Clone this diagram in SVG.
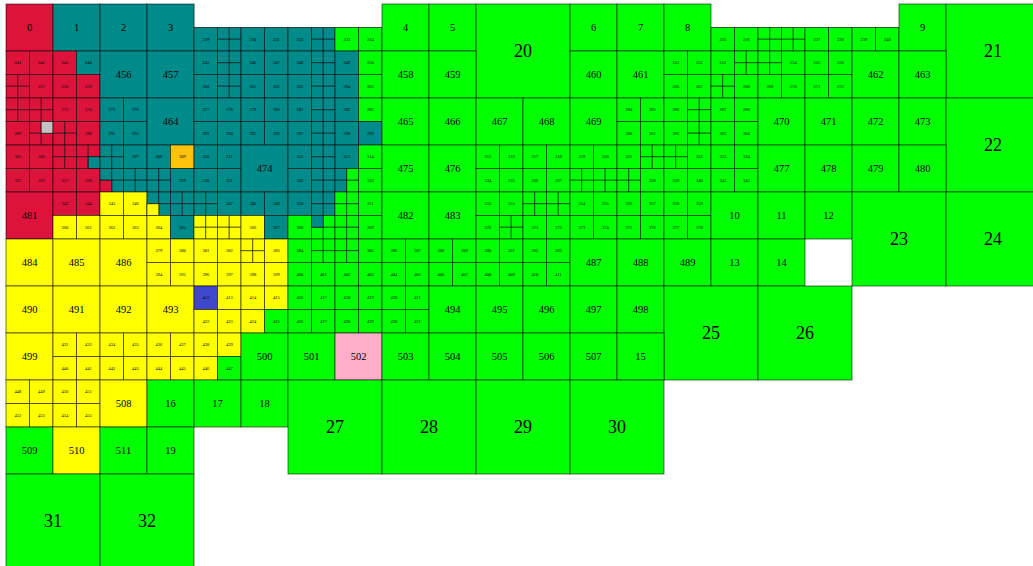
<svg xmlns="http://www.w3.org/2000/svg" width="1033" height="566" viewBox="0 0 1033 566">
<style>
.r{fill:#DC143C}.t{fill:#008B8B}.y{fill:#FFFF00}.g{fill:#00FF00}.o{fill:#FFC20E}.b{fill:#3F48CC}.p{fill:#FFAEC9}.s{fill:#C3C3C3}
text{font-family:"Liberation Serif","Times New Roman",serif;text-anchor:middle;dominant-baseline:central;fill:#000}
.L{font-size:18px}.M{font-size:10.5px}.S{font-size:4.5px}
</style>
<defs>
<rect id="A" width="47" height="47"/>
<rect id="H" width="23.5" height="23.5"/>
<rect id="B" width="94" height="94"/>
<rect id="T" width="11.75" height="11.75"/>
<g id="q"><rect width="11.75" height="11.75"/><rect x="11.75" width="11.75" height="11.75"/><rect y="11.75" width="11.75" height="11.75"/><rect x="11.75" y="11.75" width="11.75" height="11.75"/></g>
</defs>
<rect width="1033" height="566" fill="#fff"/>
<path d="M194 4V27.5H382M711 27.5H899" stroke="#aaa" fill="none"/>
<g id="cells" stroke="#000" stroke-opacity=".55">
<!-- row 0 -->
<use href="#A" x="6" y="4" class="r"/><use href="#A" x="53" y="4" class="t"/><use href="#A" x="100" y="4" class="t"/><use href="#A" x="147" y="4" class="t"/>
<use href="#H" x="194" y="27.5" class="t"/><use href="#q" x="217.5" y="27.5" class="t"/><use href="#H" x="241" y="27.5" class="t"/><use href="#H" x="264.5" y="27.5" class="t"/>
<use href="#H" x="288" y="27.5" class="t"/><use href="#q" x="311.5" y="27.5" class="t"/><use href="#H" x="335" y="27.5" class="g"/><use href="#H" x="358.5" y="27.5" class="g"/>
<use href="#A" x="382" y="4" class="g"/><use href="#A" x="429" y="4" class="g"/><use href="#B" x="476" y="4" class="g"/>
<use href="#A" x="570" y="4" class="g"/><use href="#A" x="617" y="4" class="g"/><use href="#A" x="664" y="4" class="g"/>
<use href="#H" x="711" y="27.5" class="g"/><use href="#H" x="734.5" y="27.5" class="g"/><use href="#q" x="758" y="27.5" class="g"/><use href="#q" x="781.5" y="27.5" class="g"/>
<use href="#H" x="805" y="27.5" class="g"/><use href="#H" x="828.5" y="27.5" class="g"/><use href="#H" x="852" y="27.5" class="g"/><use href="#H" x="875.5" y="27.5" class="g"/>
<use href="#A" x="899" y="4" class="g"/><use href="#B" x="946" y="4" class="g"/>
<!-- row 1 -->
<use href="#H" x="6" y="51" class="r"/><use href="#H" x="29.5" y="51" class="r"/><use href="#q" x="6" y="74.5" class="r"/><use href="#H" x="29.5" y="74.5" class="r"/>
<use href="#H" x="53" y="51" class="r"/><use href="#H" x="76.5" y="51" class="t"/><use href="#H" x="53" y="74.5" class="r"/><use href="#H" x="76.5" y="74.5" class="r"/>
<use href="#A" x="100" y="51" class="t"/><use href="#A" x="147" y="51" class="t"/>
<use href="#H" x="194" y="51" class="t"/><use href="#q" x="217.5" y="51" class="t"/><use href="#H" x="194" y="74.5" class="t"/><use href="#q" x="217.5" y="74.5" class="t"/>
<use href="#H" x="241" y="51" class="t"/><use href="#H" x="264.5" y="51" class="t"/><use href="#H" x="241" y="74.5" class="t"/><use href="#H" x="264.5" y="74.5" class="t"/>
<use href="#H" x="288" y="51" class="t"/><use href="#q" x="311.5" y="51" class="t"/><use href="#H" x="288" y="74.5" class="t"/><use href="#q" x="311.5" y="74.5" class="t"/>
<use href="#H" x="335" y="51" class="t"/><use href="#H" x="358.5" y="51" class="g"/><use href="#H" x="335" y="74.5" class="t"/><use href="#H" x="358.5" y="74.5" class="g"/>
<use href="#A" x="382" y="51" class="g"/><use href="#A" x="429" y="51" class="g"/><use href="#A" x="570" y="51" class="g"/><use href="#A" x="617" y="51" class="g"/>
<use href="#H" x="664" y="51" class="g"/><use href="#H" x="687.5" y="51" class="g"/><use href="#H" x="664" y="74.5" class="g"/><use href="#H" x="687.5" y="74.5" class="g"/>
<use href="#H" x="711" y="51" class="g"/><use href="#q" x="734.5" y="51" class="g"/><use href="#q" x="711" y="74.5" class="g"/><use href="#H" x="734.5" y="74.5" class="g"/>
<use href="#q" x="758" y="51" class="g"/><use href="#H" x="781.5" y="51" class="g"/><use href="#H" x="758" y="74.5" class="g"/><use href="#H" x="781.5" y="74.5" class="g"/>
<use href="#H" x="805" y="51" class="g"/><use href="#H" x="828.5" y="51" class="g"/><use href="#H" x="805" y="74.5" class="g"/><use href="#H" x="828.5" y="74.5" class="g"/>
<use href="#A" x="852" y="51" class="g"/><use href="#A" x="899" y="51" class="g"/>
<!-- row 2 -->
<use href="#q" x="6" y="98" class="r"/><use href="#q" x="29.5" y="98" class="r"/><use href="#H" x="6" y="121.5" class="r"/><use href="#q" x="29.5" y="121.5" class="r"/><use href="#T" x="41.25" y="121.5" class="s"/>
<use href="#H" x="53" y="98" class="r"/><use href="#H" x="76.5" y="98" class="r"/><use href="#q" x="53" y="121.5" class="r"/><use href="#H" x="76.5" y="121.5" class="r"/>
<use href="#H" x="100" y="98" class="t"/><use href="#H" x="123.5" y="98" class="t"/><use href="#H" x="100" y="121.5" class="t"/><use href="#H" x="123.5" y="121.5" class="t"/>
<use href="#A" x="147" y="98" class="t"/>
<use href="#H" x="194" y="98" class="t"/><use href="#H" x="217.5" y="98" class="t"/><use href="#H" x="194" y="121.5" class="t"/><use href="#H" x="217.5" y="121.5" class="t"/>
<use href="#H" x="241" y="98" class="t"/><use href="#H" x="264.5" y="98" class="t"/><use href="#H" x="241" y="121.5" class="t"/><use href="#H" x="264.5" y="121.5" class="t"/>
<use href="#H" x="288" y="98" class="t"/><use href="#q" x="311.5" y="98" class="t"/><use href="#H" x="288" y="121.5" class="t"/><use href="#q" x="311.5" y="121.5" class="t"/>
<use href="#H" x="335" y="98" class="t"/><use href="#H" x="358.5" y="98" class="g"/><use href="#H" x="335" y="121.5" class="t"/><use href="#H" x="358.5" y="121.5" class="t"/>
<use href="#A" x="382" y="98" class="g"/><use href="#A" x="429" y="98" class="g"/><use href="#A" x="476" y="98" class="g"/><use href="#A" x="523" y="98" class="g"/><use href="#A" x="570" y="98" class="g"/>
<use href="#H" x="617" y="98" class="g"/><use href="#H" x="640.5" y="98" class="g"/><use href="#H" x="617" y="121.5" class="g"/><use href="#H" x="640.5" y="121.5" class="g"/>
<use href="#H" x="664" y="98" class="g"/><use href="#q" x="687.5" y="98" class="g"/><use href="#H" x="664" y="121.5" class="g"/><use href="#q" x="687.5" y="121.5" class="g"/>
<use href="#H" x="711" y="98" class="g"/><use href="#H" x="734.5" y="98" class="g"/><use href="#H" x="711" y="121.5" class="g"/><use href="#H" x="734.5" y="121.5" class="g"/>
<use href="#A" x="758" y="98" class="g"/><use href="#A" x="805" y="98" class="g"/><use href="#A" x="852" y="98" class="g"/><use href="#A" x="899" y="98" class="g"/><use href="#B" x="946" y="98" class="g"/>
<!-- row 3 -->
<use href="#H" x="6" y="145" class="r"/><use href="#H" x="29.5" y="145" class="r"/><use href="#H" x="6" y="168.5" class="r"/><use href="#H" x="29.5" y="168.5" class="r"/>
<use href="#q" x="53" y="145" class="r"/><use href="#q" x="76.5" y="145" class="r"/><use href="#T" x="88.25" y="156.75" class="t"/><use href="#H" x="53" y="168.5" class="r"/><use href="#H" x="76.5" y="168.5" class="r"/>
<use href="#q" x="100" y="145" class="t"/><use href="#H" x="123.5" y="145" class="t"/><use href="#q" x="100" y="168.5" class="t"/><use href="#T" x="100" y="180.25" class="r"/><use href="#q" x="123.5" y="168.5" class="t"/>
<use href="#H" x="147" y="145" class="t"/><use href="#H" x="170.5" y="145" class="o"/><use href="#q" x="147" y="168.5" class="t"/><use href="#H" x="170.5" y="168.5" class="t"/>
<use href="#H" x="194" y="145" class="t"/><use href="#H" x="217.5" y="145" class="t"/><use href="#H" x="194" y="168.5" class="t"/><use href="#H" x="217.5" y="168.5" class="t"/>
<use href="#A" x="241" y="145" class="t"/>
<use href="#H" x="288" y="145" class="t"/><use href="#q" x="311.5" y="145" class="t"/><use href="#H" x="288" y="168.5" class="t"/><use href="#q" x="311.5" y="168.5" class="t"/>
<use href="#H" x="335" y="145" class="t"/><use href="#H" x="358.5" y="145" class="g"/><use href="#q" x="335" y="168.5" class="t"/><use href="#T" x="346.75" y="168.5" class="g"/><use href="#T" x="346.75" y="180.25" class="g"/><use href="#H" x="358.5" y="168.5" class="g"/>
<use href="#A" x="382" y="145" class="g"/><use href="#A" x="429" y="145" class="g"/>
<use href="#H" x="476" y="145" class="g"/><use href="#H" x="499.5" y="145" class="g"/><use href="#H" x="476" y="168.5" class="g"/><use href="#H" x="499.5" y="168.5" class="g"/>
<use href="#H" x="523" y="145" class="g"/><use href="#H" x="546.5" y="145" class="g"/><use href="#H" x="523" y="168.5" class="g"/><use href="#H" x="546.5" y="168.5" class="g"/>
<use href="#H" x="570" y="145" class="g"/><use href="#H" x="593.5" y="145" class="g"/><use href="#q" x="570" y="168.5" class="g"/><use href="#q" x="593.5" y="168.5" class="g"/>
<use href="#H" x="617" y="145" class="g"/><use href="#q" x="640.5" y="145" class="g"/><use href="#q" x="617" y="168.5" class="g"/><use href="#H" x="640.5" y="168.5" class="g"/>
<use href="#q" x="664" y="145" class="g"/><use href="#H" x="687.5" y="145" class="g"/><use href="#H" x="664" y="168.5" class="g"/><use href="#H" x="687.5" y="168.5" class="g"/>
<use href="#H" x="711" y="145" class="g"/><use href="#H" x="734.5" y="145" class="g"/><use href="#H" x="711" y="168.5" class="g"/><use href="#H" x="734.5" y="168.5" class="g"/>
<use href="#A" x="758" y="145" class="g"/><use href="#A" x="805" y="145" class="g"/><use href="#A" x="852" y="145" class="g"/><use href="#A" x="899" y="145" class="g"/>
<!-- row 4 -->
<use href="#A" x="6" y="192" class="r"/>
<use href="#H" x="53" y="192" class="r"/><use href="#H" x="76.5" y="192" class="r"/><use href="#H" x="53" y="215.5" class="y"/><use href="#H" x="76.5" y="215.5" class="y"/>
<use href="#H" x="100" y="192" class="y"/><use href="#H" x="123.5" y="192" class="y"/><use href="#H" x="100" y="215.5" class="y"/><use href="#H" x="123.5" y="215.5" class="y"/>
<use href="#q" x="147" y="192" class="t"/><use href="#T" x="147" y="203.75" class="y"/><use href="#q" x="170.5" y="192" class="t"/><use href="#H" x="147" y="215.5" class="y"/><use href="#H" x="170.5" y="215.5" class="t"/>
<use href="#q" x="194" y="192" class="t"/><use href="#H" x="217.5" y="192" class="t"/><use href="#q" x="194" y="215.5" class="y"/><use href="#q" x="217.5" y="215.5" class="y"/>
<use href="#H" x="241" y="192" class="t"/><use href="#H" x="264.5" y="192" class="t"/><use href="#H" x="241" y="215.5" class="y"/><use href="#H" x="264.5" y="215.5" class="t"/>
<use href="#H" x="288" y="192" class="t"/><use href="#q" x="311.5" y="192" class="t"/><use href="#H" x="288" y="215.5" class="g"/><use href="#q" x="311.5" y="215.5" class="g"/><use href="#T" x="311.5" y="215.5" class="t"/>
<use href="#q" x="335" y="192" class="g"/><use href="#H" x="358.5" y="192" class="g"/><use href="#q" x="335" y="215.5" class="g"/><use href="#H" x="358.5" y="215.5" class="g"/>
<use href="#A" x="382" y="192" class="g"/><use href="#A" x="429" y="192" class="g"/>
<use href="#H" x="476" y="192" class="g"/><use href="#H" x="499.5" y="192" class="g"/><use href="#H" x="476" y="215.5" class="g"/><use href="#q" x="499.5" y="215.5" class="g"/>
<use href="#q" x="523" y="192" class="g"/><use href="#q" x="546.5" y="192" class="g"/><use href="#H" x="523" y="215.5" class="g"/><use href="#H" x="546.5" y="215.5" class="g"/>
<use href="#H" x="570" y="192" class="g"/><use href="#H" x="593.5" y="192" class="g"/><use href="#H" x="570" y="215.5" class="g"/><use href="#H" x="593.5" y="215.5" class="g"/>
<use href="#H" x="617" y="192" class="g"/><use href="#H" x="640.5" y="192" class="g"/><use href="#H" x="617" y="215.5" class="g"/><use href="#H" x="640.5" y="215.5" class="g"/>
<use href="#H" x="664" y="192" class="g"/><use href="#H" x="687.5" y="192" class="g"/><use href="#H" x="664" y="215.5" class="g"/><use href="#H" x="687.5" y="215.5" class="g"/>
<use href="#A" x="711" y="192" class="g"/><use href="#A" x="758" y="192" class="g"/><use href="#A" x="805" y="192" class="g"/><use href="#B" x="852" y="192" class="g"/><use href="#B" x="946" y="192" class="g"/>
<!-- row 5 -->
<use href="#A" x="6" y="239" class="y"/><use href="#A" x="53" y="239" class="y"/><use href="#A" x="100" y="239" class="y"/>
<use href="#H" x="147" y="239" class="y"/><use href="#H" x="170.5" y="239" class="y"/><use href="#H" x="147" y="262.5" class="y"/><use href="#H" x="170.5" y="262.5" class="y"/>
<use href="#H" x="194" y="239" class="y"/><use href="#H" x="217.5" y="239" class="y"/><use href="#H" x="194" y="262.5" class="y"/><use href="#H" x="217.5" y="262.5" class="y"/>
<use href="#q" x="241" y="239" class="y"/><use href="#H" x="264.5" y="239" class="y"/><use href="#H" x="241" y="262.5" class="y"/><use href="#H" x="264.5" y="262.5" class="y"/>
<use href="#H" x="288" y="239" class="g"/><use href="#q" x="311.5" y="239" class="g"/><use href="#H" x="288" y="262.5" class="g"/><use href="#H" x="311.5" y="262.5" class="g"/>
<use href="#q" x="335" y="239" class="g"/><use href="#H" x="358.5" y="239" class="g"/><use href="#H" x="335" y="262.5" class="g"/><use href="#H" x="358.5" y="262.5" class="g"/>
<use href="#H" x="382" y="239" class="g"/><use href="#H" x="405.5" y="239" class="g"/><use href="#H" x="382" y="262.5" class="g"/><use href="#H" x="405.5" y="262.5" class="g"/>
<use href="#H" x="429" y="239" class="g"/><use href="#H" x="452.5" y="239" class="g"/><use href="#H" x="429" y="262.5" class="g"/><use href="#H" x="452.5" y="262.5" class="g"/>
<use href="#H" x="476" y="239" class="g"/><use href="#H" x="499.5" y="239" class="g"/><use href="#H" x="476" y="262.5" class="g"/><use href="#H" x="499.5" y="262.5" class="g"/>
<use href="#H" x="523" y="239" class="g"/><use href="#H" x="546.5" y="239" class="g"/><use href="#H" x="523" y="262.5" class="g"/><use href="#H" x="546.5" y="262.5" class="g"/>
<use href="#A" x="570" y="239" class="g"/><use href="#A" x="617" y="239" class="g"/><use href="#A" x="664" y="239" class="g"/><use href="#A" x="711" y="239" class="g"/><use href="#A" x="758" y="239" class="g"/>
<!-- row 6 -->
<use href="#A" x="6" y="286" class="y"/><use href="#A" x="53" y="286" class="y"/><use href="#A" x="100" y="286" class="y"/><use href="#A" x="147" y="286" class="y"/>
<use href="#H" x="194" y="286" class="b"/><use href="#H" x="217.5" y="286" class="y"/><use href="#H" x="194" y="309.5" class="y"/><use href="#H" x="217.5" y="309.5" class="y"/>
<use href="#H" x="241" y="286" class="y"/><use href="#H" x="264.5" y="286" class="y"/><use href="#H" x="241" y="309.5" class="y"/><use href="#H" x="264.5" y="309.5" class="g"/>
<use href="#H" x="288" y="286" class="g"/><use href="#H" x="311.5" y="286" class="g"/><use href="#H" x="288" y="309.5" class="g"/><use href="#H" x="311.5" y="309.5" class="g"/>
<use href="#H" x="335" y="286" class="g"/><use href="#H" x="358.5" y="286" class="g"/><use href="#H" x="335" y="309.5" class="g"/><use href="#H" x="358.5" y="309.5" class="g"/>
<use href="#H" x="382" y="286" class="g"/><use href="#H" x="405.5" y="286" class="g"/><use href="#H" x="382" y="309.5" class="g"/><use href="#H" x="405.5" y="309.5" class="g"/>
<use href="#A" x="429" y="286" class="g"/><use href="#A" x="476" y="286" class="g"/><use href="#A" x="523" y="286" class="g"/><use href="#A" x="570" y="286" class="g"/><use href="#A" x="617" y="286" class="g"/>
<use href="#B" x="664" y="286" class="g"/><use href="#B" x="758" y="286" class="g"/>
<!-- row 7 -->
<use href="#A" x="6" y="333" class="y"/>
<use href="#H" x="53" y="333" class="y"/><use href="#H" x="76.5" y="333" class="y"/><use href="#H" x="53" y="356.5" class="y"/><use href="#H" x="76.5" y="356.5" class="y"/>
<use href="#H" x="100" y="333" class="y"/><use href="#H" x="123.5" y="333" class="y"/><use href="#H" x="100" y="356.5" class="y"/><use href="#H" x="123.5" y="356.5" class="y"/>
<use href="#H" x="147" y="333" class="y"/><use href="#H" x="170.5" y="333" class="y"/><use href="#H" x="147" y="356.5" class="y"/><use href="#H" x="170.5" y="356.5" class="y"/>
<use href="#H" x="194" y="333" class="y"/><use href="#H" x="217.5" y="333" class="y"/><use href="#H" x="194" y="356.5" class="y"/><use href="#H" x="217.5" y="356.5" class="g"/>
<use href="#A" x="241" y="333" class="g"/><use href="#A" x="288" y="333" class="g"/><use href="#A" x="335" y="333" class="p"/><use href="#A" x="382" y="333" class="g"/><use href="#A" x="429" y="333" class="g"/>
<use href="#A" x="476" y="333" class="g"/><use href="#A" x="523" y="333" class="g"/><use href="#A" x="570" y="333" class="g"/><use href="#A" x="617" y="333" class="g"/>
<!-- row 8 -->
<use href="#H" x="6" y="380" class="y"/><use href="#H" x="29.5" y="380" class="y"/><use href="#H" x="6" y="403.5" class="y"/><use href="#H" x="29.5" y="403.5" class="y"/>
<use href="#H" x="53" y="380" class="y"/><use href="#H" x="76.5" y="380" class="y"/><use href="#H" x="53" y="403.5" class="y"/><use href="#H" x="76.5" y="403.5" class="y"/>
<use href="#A" x="100" y="380" class="y"/><use href="#A" x="147" y="380" class="g"/><use href="#A" x="194" y="380" class="g"/><use href="#A" x="241" y="380" class="g"/>
<use href="#B" x="288" y="380" class="g"/><use href="#B" x="382" y="380" class="g"/><use href="#B" x="476" y="380" class="g"/><use href="#B" x="570" y="380" class="g"/>
<!-- row 9-11 -->
<use href="#A" x="6" y="427" class="g"/><use href="#A" x="53" y="427" class="y"/><use href="#A" x="100" y="427" class="g"/><use href="#A" x="147" y="427" class="g"/>
<use href="#B" x="6" y="474" class="g"/><use href="#B" x="100" y="474" class="g"/>
</g>
<g id="labels">
<g class="L">
<text x="523" y="51">20</text><text x="993" y="51">21</text><text x="993" y="145">22</text><text x="899" y="239">23</text><text x="993" y="239">24</text>
<text x="711" y="333">25</text><text x="805" y="333">26</text><text x="335" y="427">27</text><text x="429" y="427">28</text><text x="523" y="427">29</text><text x="617" y="427">30</text>
<text x="53" y="521">31</text><text x="147" y="521">32</text>
</g>
<g class="M">
<text x="29.5" y="27.5">0</text><text x="76.5" y="27.5">1</text><text x="123.5" y="27.5">2</text><text x="170.5" y="27.5">3</text><text x="405.5" y="27.5">4</text><text x="452.5" y="27.5">5</text>
<text x="593.5" y="27.5">6</text><text x="640.5" y="27.5">7</text><text x="687.5" y="27.5">8</text><text x="922.5" y="27.5">9</text>
<text x="123.5" y="74.5">456</text><text x="170.5" y="74.5">457</text><text x="405.5" y="74.5">458</text><text x="452.5" y="74.5">459</text><text x="593.5" y="74.5">460</text><text x="640.5" y="74.5">461</text><text x="875.5" y="74.5">462</text><text x="922.5" y="74.5">463</text>
<text x="170.5" y="121.5">464</text><text x="405.5" y="121.5">465</text><text x="452.5" y="121.5">466</text><text x="499.5" y="121.5">467</text><text x="546.5" y="121.5">468</text><text x="593.5" y="121.5">469</text><text x="781.5" y="121.5">470</text><text x="828.5" y="121.5">471</text><text x="875.5" y="121.5">472</text><text x="922.5" y="121.5">473</text>
<text x="264.5" y="168.5">474</text><text x="405.5" y="168.5">475</text><text x="452.5" y="168.5">476</text><text x="781.5" y="168.5">477</text><text x="828.5" y="168.5">478</text><text x="875.5" y="168.5">479</text><text x="922.5" y="168.5">480</text>
<text x="29.5" y="215.5">481</text><text x="405.5" y="215.5">482</text><text x="452.5" y="215.5">483</text><text x="734.5" y="215.5">10</text><text x="781.5" y="215.5">11</text><text x="828.5" y="215.5">12</text>
<text x="29.5" y="262.5">484</text><text x="76.5" y="262.5">485</text><text x="123.5" y="262.5">486</text><text x="593.5" y="262.5">487</text><text x="640.5" y="262.5">488</text><text x="687.5" y="262.5">489</text><text x="734.5" y="262.5">13</text><text x="781.5" y="262.5">14</text>
<text x="29.5" y="309.5">490</text><text x="76.5" y="309.5">491</text><text x="123.5" y="309.5">492</text><text x="170.5" y="309.5">493</text><text x="452.5" y="309.5">494</text><text x="499.5" y="309.5">495</text><text x="546.5" y="309.5">496</text><text x="593.5" y="309.5">497</text><text x="640.5" y="309.5">498</text>
<text x="29.5" y="356.5">499</text><text x="264.5" y="356.5">500</text><text x="311.5" y="356.5">501</text><text x="358.5" y="356.5">502</text><text x="405.5" y="356.5">503</text><text x="452.5" y="356.5">504</text><text x="499.5" y="356.5">505</text><text x="546.5" y="356.5">506</text><text x="593.5" y="356.5">507</text><text x="640.5" y="356.5">15</text>
<text x="123.5" y="403.5">508</text><text x="170.5" y="403.5">16</text><text x="217.5" y="403.5">17</text><text x="264.5" y="403.5">18</text>
<text x="29.5" y="450.5">509</text><text x="76.5" y="450.5">510</text><text x="123.5" y="450.5">511</text><text x="170.5" y="450.5">19</text>
</g>
<g class="S">
<text x="205.75" y="39.25">229</text><text x="252.75" y="39.25">230</text><text x="276.25" y="39.25">231</text><text x="299.75" y="39.25">232</text><text x="346.75" y="39.25">233</text><text x="370.25" y="39.25">234</text>
<text x="722.75" y="39.25">235</text><text x="746.25" y="39.25">236</text><text x="816.75" y="39.25">237</text><text x="840.25" y="39.25">238</text><text x="863.75" y="39.25">239</text><text x="887.25" y="39.25">240</text>
<text x="17.75" y="62.75">241</text><text x="41.25" y="62.75">242</text><text x="64.75" y="62.75">243</text><text x="88.25" y="62.75">244</text><text x="205.75" y="62.75">245</text><text x="252.75" y="62.75">246</text><text x="276.25" y="62.75">247</text><text x="299.75" y="62.75">248</text>
<text x="346.75" y="62.75">249</text><text x="370.25" y="62.75">250</text><text x="675.75" y="62.75">251</text><text x="699.25" y="62.75">252</text><text x="722.75" y="62.75">253</text><text x="793.25" y="62.75">254</text><text x="816.75" y="62.75">255</text><text x="840.25" y="62.75">256</text>
<text x="41.25" y="86.25">257</text><text x="64.75" y="86.25">258</text><text x="88.25" y="86.25">259</text><text x="205.75" y="86.25">260</text><text x="252.75" y="86.25">261</text><text x="276.25" y="86.25">262</text><text x="299.75" y="86.25">263</text><text x="346.75" y="86.25">264</text>
<text x="370.25" y="86.25">265</text><text x="675.75" y="86.25">266</text><text x="699.25" y="86.25">267</text><text x="746.25" y="86.25">268</text><text x="769.75" y="86.25">269</text><text x="793.25" y="86.25">270</text><text x="816.75" y="86.25">271</text><text x="840.25" y="86.25">272</text>
<text x="64.75" y="109.75">273</text><text x="88.25" y="109.75">274</text><text x="111.75" y="109.75">275</text><text x="135.25" y="109.75">276</text><text x="205.75" y="109.75">277</text><text x="229.25" y="109.75">278</text><text x="252.75" y="109.75">279</text><text x="276.25" y="109.75">280</text>
<text x="299.75" y="109.75">281</text><text x="346.75" y="109.75">282</text><text x="370.25" y="109.75">283</text><text x="628.75" y="109.75">284</text><text x="652.25" y="109.75">285</text><text x="675.75" y="109.75">286</text><text x="722.75" y="109.75">287</text><text x="746.25" y="109.75">288</text>
<text x="17.75" y="133.25">289</text><text x="88.25" y="133.25">290</text><text x="111.75" y="133.25">291</text><text x="135.25" y="133.25">292</text><text x="205.75" y="133.25">293</text><text x="229.25" y="133.25">294</text><text x="252.75" y="133.25">295</text><text x="276.25" y="133.25">296</text>
<text x="299.75" y="133.25">297</text><text x="346.75" y="133.25">298</text><text x="370.25" y="133.25">299</text><text x="628.75" y="133.25">300</text><text x="652.25" y="133.25">301</text><text x="675.75" y="133.25">302</text><text x="722.75" y="133.25">303</text><text x="746.25" y="133.25">304</text>
<text x="17.75" y="156.75">305</text><text x="41.25" y="156.75">306</text><text x="135.25" y="156.75">307</text><text x="158.75" y="156.75">308</text><text x="182.25" y="156.75">309</text><text x="205.75" y="156.75">310</text><text x="229.25" y="156.75">311</text><text x="299.75" y="156.75">312</text>
<text x="346.75" y="156.75">313</text><text x="370.25" y="156.75">314</text><text x="487.75" y="156.75">315</text><text x="511.25" y="156.75">316</text><text x="534.75" y="156.75">317</text><text x="558.25" y="156.75">318</text><text x="581.75" y="156.75">319</text><text x="605.25" y="156.75">320</text>
<text x="628.75" y="156.75">321</text><text x="699.25" y="156.75">322</text><text x="722.75" y="156.75">323</text><text x="746.25" y="156.75">324</text>
<text x="17.75" y="180.25">325</text><text x="41.25" y="180.25">326</text><text x="64.75" y="180.25">327</text><text x="88.25" y="180.25">328</text><text x="182.25" y="180.25">329</text><text x="205.75" y="180.25">330</text><text x="229.25" y="180.25">331</text><text x="299.75" y="180.25">332</text>
<text x="370.25" y="180.25">333</text><text x="487.75" y="180.25">334</text><text x="511.25" y="180.25">335</text><text x="534.75" y="180.25">336</text><text x="558.25" y="180.25">337</text><text x="652.25" y="180.25">338</text><text x="675.75" y="180.25">339</text><text x="699.25" y="180.25">340</text>
<text x="722.75" y="180.25">341</text><text x="746.25" y="180.25">342</text>
<text x="64.75" y="203.75">343</text><text x="88.25" y="203.75">344</text><text x="111.75" y="203.75">345</text><text x="135.25" y="203.75">346</text><text x="229.25" y="203.75">347</text><text x="252.75" y="203.75">348</text><text x="276.25" y="203.75">349</text><text x="299.75" y="203.75">350</text>
<text x="370.25" y="203.75">351</text><text x="487.75" y="203.75">352</text><text x="511.25" y="203.75">353</text><text x="581.75" y="203.75">354</text><text x="605.25" y="203.75">355</text><text x="628.75" y="203.75">356</text><text x="652.25" y="203.75">357</text><text x="675.75" y="203.75">358</text><text x="699.25" y="203.75">359</text>
<text x="64.75" y="227.25">360</text><text x="88.25" y="227.25">361</text><text x="111.75" y="227.25">362</text><text x="135.25" y="227.25">363</text><text x="158.75" y="227.25">364</text><text x="182.25" y="227.25">365</text><text x="252.75" y="227.25">366</text><text x="276.25" y="227.25">367</text>
<text x="299.75" y="227.25">368</text><text x="370.25" y="227.25">369</text><text x="487.75" y="227.25">370</text><text x="534.75" y="227.25">371</text><text x="558.25" y="227.25">372</text><text x="581.75" y="227.25">373</text><text x="605.25" y="227.25">374</text><text x="628.75" y="227.25">375</text>
<text x="652.25" y="227.25">376</text><text x="675.75" y="227.25">377</text><text x="699.25" y="227.25">378</text>
<text x="158.75" y="250.75">379</text><text x="182.25" y="250.75">380</text><text x="205.75" y="250.75">381</text><text x="229.25" y="250.75">382</text><text x="276.25" y="250.75">383</text><text x="299.75" y="250.75">384</text><text x="370.25" y="250.75">385</text><text x="393.75" y="250.75">386</text>
<text x="417.25" y="250.75">387</text><text x="440.75" y="250.75">388</text><text x="464.25" y="250.75">389</text><text x="487.75" y="250.75">390</text><text x="511.25" y="250.75">391</text><text x="534.75" y="250.75">392</text><text x="558.25" y="250.75">393</text>
<text x="158.75" y="274.25">394</text><text x="182.25" y="274.25">395</text><text x="205.75" y="274.25">396</text><text x="229.25" y="274.25">397</text><text x="252.75" y="274.25">398</text><text x="276.25" y="274.25">399</text><text x="299.75" y="274.25">400</text><text x="323.25" y="274.25">401</text>
<text x="346.75" y="274.25">402</text><text x="370.25" y="274.25">403</text><text x="393.75" y="274.25">404</text><text x="417.25" y="274.25">405</text><text x="440.75" y="274.25">406</text><text x="464.25" y="274.25">407</text><text x="487.75" y="274.25">408</text><text x="511.25" y="274.25">409</text>
<text x="534.75" y="274.25">410</text><text x="558.25" y="274.25">411</text>
<text x="205.75" y="297.75">412</text><text x="229.25" y="297.75">413</text><text x="252.75" y="297.75">414</text><text x="276.25" y="297.75">415</text><text x="299.75" y="297.75">416</text><text x="323.25" y="297.75">417</text><text x="346.75" y="297.75">418</text><text x="370.25" y="297.75">419</text>
<text x="393.75" y="297.75">420</text><text x="417.25" y="297.75">421</text>
<text x="205.75" y="321.25">422</text><text x="229.25" y="321.25">423</text><text x="252.75" y="321.25">424</text><text x="276.25" y="321.25">425</text><text x="299.75" y="321.25">426</text><text x="323.25" y="321.25">427</text><text x="346.75" y="321.25">428</text><text x="370.25" y="321.25">429</text>
<text x="393.75" y="321.25">430</text><text x="417.25" y="321.25">431</text>
<text x="64.75" y="344.75">432</text><text x="88.25" y="344.75">433</text><text x="111.75" y="344.75">434</text><text x="135.25" y="344.75">435</text><text x="158.75" y="344.75">436</text><text x="182.25" y="344.75">437</text><text x="205.75" y="344.75">438</text><text x="229.25" y="344.75">439</text>
<text x="64.75" y="368.25">440</text><text x="88.25" y="368.25">441</text><text x="111.75" y="368.25">442</text><text x="135.25" y="368.25">443</text><text x="158.75" y="368.25">444</text><text x="182.25" y="368.25">445</text><text x="205.75" y="368.25">446</text><text x="229.25" y="368.25">447</text>
<text x="17.75" y="391.75">448</text><text x="41.25" y="391.75">449</text><text x="64.75" y="391.75">450</text><text x="88.25" y="391.75">451</text>
<text x="17.75" y="415.25">452</text><text x="41.25" y="415.25">453</text><text x="64.75" y="415.25">454</text><text x="88.25" y="415.25">455</text>
</g>
</g>
</svg>
